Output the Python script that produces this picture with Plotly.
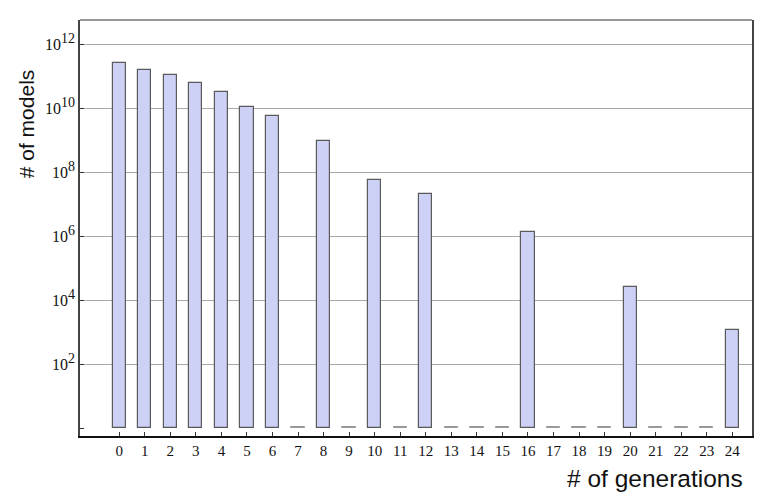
import plotly.graph_objects as go

generations = list(range(25))
# estimated counts of models per generation (0 = no models)
models = [2.6e11, 1.5e11, 1.1e11, 6.0e10, 3.1e10, 1.1e10, 5.6e9, 0, 9.3e8, 0,
          5.6e7, 0, 2.0e7, 0, 0, 0, 1.35e6, 0, 0, 0, 2.6e4, 0, 0, 0, 1.15e3]
ytick_vals = [1e2, 1e4, 1e6, 1e8, 1e10, 1e12]
ytick_exps = ["2", "4", "6", "8", "10", "12"]
xtick_text = [str(g) for g in generations]

ytick_text = ["10<sup><span style='font-size:14px'>%s</span></sup>" % e for e in ytick_exps]

pos_x = [g for g, m in zip(generations, models) if m > 0]
pos_h = [m - 1 for m in models if m > 0]
zero_x = [g for g, m in zip(generations, models) if m == 0]

fig = go.Figure()
fig.add_trace(go.Bar(
    x=pos_x, y=pos_h, base=1, width=0.52,
    marker=dict(color="#cdd1f6", line=dict(color="#5a5a5a", width=1.2)),
    hoverinfo="skip", showlegend=False))
fig.add_trace(go.Bar(
    x=zero_x, y=[0.08] * len(zero_x), base=1, width=0.52,
    marker=dict(color="#999999", line=dict(color="#999999", width=1)),
    hoverinfo="skip", showlegend=False))

fig.update_layout(
    width=755, height=489,
    margin=dict(l=72, r=9, t=12, b=61),
    paper_bgcolor="white", plot_bgcolor="white",
    bargap=0,
    xaxis=dict(range=[-1.534, 24.77], tickmode="array", tickvals=generations,
               ticktext=xtick_text, ticks="inside", ticklen=4, tickcolor="#333",
               showgrid=False, zeroline=False, showline=True, linecolor="#111",
               linewidth=1.5,
               tickfont=dict(family="Liberation Serif", size=15, color="#111")),
    yaxis=dict(type="log", range=[-0.25, 12.75], tickmode="array",
               tickvals=ytick_vals, ticktext=ytick_text, ticks="inside",
               ticklen=4, tickcolor="#333", showgrid=True, gridcolor="#a8a8a8",
               gridwidth=1, zeroline=False, showline=True, linecolor="#444",
               linewidth=1.5, mirror=True,
               minor=dict(tickvals=[1], ticks="inside", ticklen=4,
                          tickcolor="#333", showgrid=False),
               tickfont=dict(family="Liberation Serif", size=16, color="#111")),
    font=dict(family="Liberation Sans"),
    shapes=[dict(type="line", xref="paper", yref="paper", x0=0, x1=1, y0=1, y1=1,
                 line=dict(color="#999", width=2))],
    annotations=[
        dict(text="# of models", xref="paper", yref="paper", x=-0.08, y=0.75,
             textangle=-90, showarrow=False, xanchor="center", yanchor="middle",
             font=dict(family="Liberation Sans", size=21, color="#111")),
        dict(text="# of generations", xref="paper", yref="paper", x=0.99, y=-0.065,
             showarrow=False, xanchor="right", yanchor="top",
             font=dict(family="Liberation Sans", size=24.5, color="#111")),
    ],
)

fig.write_html("out.html")
